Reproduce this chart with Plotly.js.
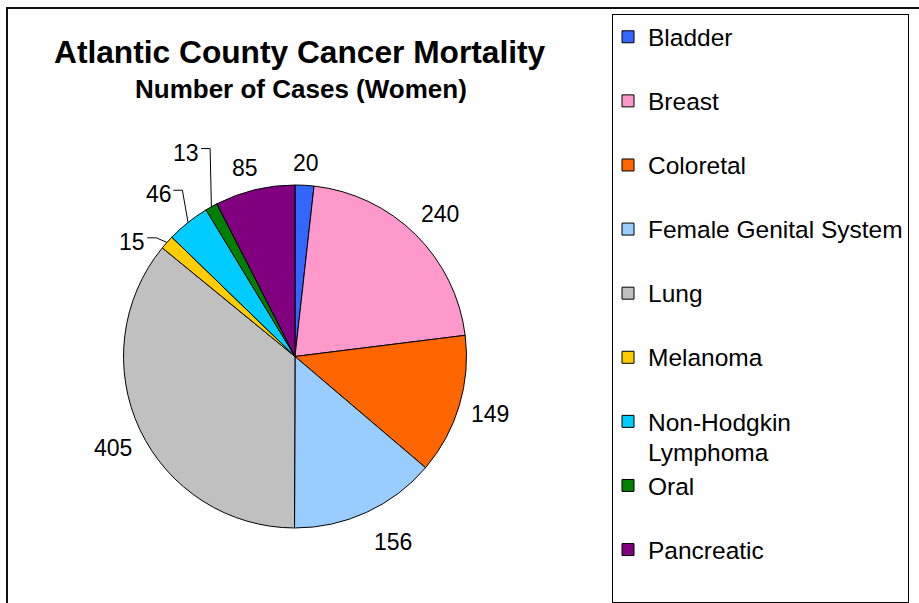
<!DOCTYPE html>
<html>
<head>
<meta charset="utf-8">
<script src="https://cdn.plot.ly/plotly-3.0.1.min.js"></script>
<style>html,body{margin:0;padding:0;background:#fff;}#chart{width:919px;height:603px;}</style>
</head>
<body>
<div id="chart"></div>
<script>
var categories = ["Bladder", "Breast", "Coloretal", "Female Genital System", "Lung", "Melanoma", "Non-Hodgkin<br>Lymphoma", "Oral", "Pancreatic"];
var cases = [20, 240, 149, 156, 405, 15, 46, 13, 85];
var sliceColors = ["#3366FF", "#FF99CC", "#FF6600", "#99CCFF", "#C0C0C0", "#FFCC00", "#00CCFF", "#008000", "#800080"];
var chartTitle = "Atlantic County Cancer Mortality";
var chartSubtitle = "Number of Cases (Women)";

// label placement tweaks (px) for the crowded small slices, and which get leader lines
var labelShiftX = [0, 3, 1, 13, 1, -16, -14, -13, -4];
var labelShiftY = [0, -5, 2, 10, 9, 14, -11, -35, 0];
var labelLeader = [false, false, false, false, false, true, true, true, false];

var W = 919, H = 603;
var font = "Arial, 'Liberation Sans', sans-serif";
var labelSize = 23;
var pieDomain = { x: [0.1344, 0.5076], y: [0.1244, 0.6932] };

// legend labels: every entry spans two lines like the reference
var legendLabels = categories.map(function (c) {
  var t = c.indexOf("<br>") >= 0 ? c : c + "<br>\u00a0";
  return t.split("<br>").map(function (p) { return "<span style='font-size:24.5px'>" + p + "</span>"; }).join("<br>");
});

var trace = {
  type: "pie",
  labels: legendLabels,
  values: cases,
  sort: false,
  direction: "clockwise",
  rotation: 0,
  marker: { colors: sliceColors, line: { color: "#000", width: 1 } },
  textinfo: "none",
  domain: pieDomain,
  hoverinfo: "value"
};

// value labels around the pie, placed from each slice's mid angle
var cx = (pieDomain.x[0] + pieDomain.x[1]) / 2 * W;
var cy = H - (pieDomain.y[0] + pieDomain.y[1]) / 2 * H;
var r = Math.min((pieDomain.x[1] - pieDomain.x[0]) * W, (pieDomain.y[1] - pieDomain.y[0]) * H) / 2;
var total = cases.reduce(function (a, b) { return a + b; }, 0);
var annotations = [];
var shapes = [];
var cum = 0;
cases.forEach(function (v, i) {
  var mid = (cum + v / 2) / total * 2 * Math.PI;
  cum += v;
  var dx = Math.sin(mid), dy = -Math.cos(mid);
  var ex = cx + r * dx, ey = cy + r * dy;
  var halfW = String(v).length * 0.556 * labelSize / 2, halfH = 10;
  var lx = ex + dx * 12 + dx * halfW + labelShiftX[i];
  var ly = ey + dy * 12 + dy * halfH + labelShiftY[i];
  annotations.push({
    text: String(v), xref: "paper", yref: "paper", x: lx / W, y: 1 - ly / H,
    xanchor: "center", yanchor: "middle", showarrow: false,
    font: { family: font, size: labelSize, color: "#000" }
  });
  if (labelLeader[i]) {
    var sx = lx + halfW + 2, sy = ly - 4, kx = lx + halfW + 11;
    var P = function (x, y) { return (x / W) + " " + (1 - y / H); };
    shapes.push({ type: "path", xref: "paper", yref: "paper",
      path: "M " + P(sx, sy) + " L " + P(kx, sy) + " L " + P(ex, ey),
      line: { color: "#000", width: 1 } });
  }
});

annotations.push(
  { text: "<b>" + chartTitle + "</b>", xref: "paper", yref: "paper", x: 300 / W, y: 1 - 52 / H,
    xanchor: "center", yanchor: "middle", showarrow: false, font: { family: font, size: 31.7, color: "#000" } },
  { text: "<b>" + chartSubtitle + "</b>", xref: "paper", yref: "paper", x: 300.5 / W, y: 1 - 89 / H,
    xanchor: "center", yanchor: "middle", showarrow: false, font: { family: font, size: 26, color: "#000" } }
);
shapes.push({ type: "rect", xref: "paper", yref: "paper", x0: 7 / W, x1: 1.02, y0: -0.02, y1: 1 - 8 / H,
  line: { color: "#111", width: 2 }, fillcolor: "rgba(0,0,0,0)", layer: "below" });

var layout = {
  width: W, height: H,
  margin: { l: 0, r: 0, t: 0, b: 0 },
  paper_bgcolor: "#fff",
  font: { family: font, color: "#000" },
  showlegend: true,
  legend: {
    x: 612 / W, y: 1 - 18 / H, xanchor: "left", yanchor: "top",
    bgcolor: "#fff", bordercolor: "#000", borderwidth: 1,
    font: { family: font, size: 23.5, color: "#000" },
    valign: "top", traceorder: "normal", indentation: -5
  },
  annotations: annotations,
  shapes: shapes
};
Plotly.newPlot("chart", [trace], layout, { staticPlot: true });
</script>
</body>
</html>
